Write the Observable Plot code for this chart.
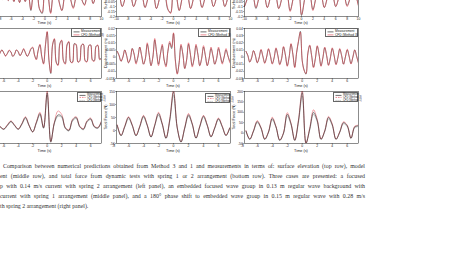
<!DOCTYPE html>
<html>
<head>
<meta charset="utf-8">
<script src="https://cdn.jsdelivr.net/npm/d3@7"></script>
<script src="https://cdn.jsdelivr.net/npm/@observablehq/plot@0.6"></script>
<style>
html,body{margin:0;padding:0;background:#fff;}
#root{position:relative;width:467px;height:271px;overflow:hidden;background:#fff;font-family:"Liberation Sans",Arial,sans-serif;color:#111;}
#root svg{position:absolute;}
.t{position:absolute;white-space:nowrap;line-height:1;transform:translate(-50%,-50%);font-size:3.8px;color:#222;}
.yl{position:absolute;white-space:nowrap;line-height:1;transform:translate(-50%,-50%) rotate(-90deg);font-size:3.8px;color:#222;}
.leg{position:absolute;box-sizing:border-box;border:0.5px solid #666;background:#fff;padding:0.5px 1px;}
.leg div{display:flex;align-items:center;white-space:nowrap;color:#222;}
.cap{position:absolute;font-family:"Liberation Serif","Times New Roman",serif;font-size:5.9px;line-height:10px;color:#333;white-space:normal;text-align:justify;text-align-last:justify;}
</style>
</head>
<body>
<div id="root"></div>
<script>
// ---------- time grids ----------
const tTop = [-10,-9.5,-9,-8.5,-8,-7.5,-7,-6.5,-6,-5.5,-5,-4.5,-4,-3.5,-3,-2.5,-2,-1.5,-1,-0.5,0,0.5,1,1.5,2,2.5,3,3.5,4,4.5,5,5.5,6,6.5,7,7.5,8,8.5,9,9.5,10];
const tMid = [-7.5,-7.25,-7,-6.75,-6.5,-6.25,-6,-5.75,-5.5,-5.25,-5,-4.75,-4.5,-4.25,-4,-3.75,-3.5,-3.25,-3,-2.75,-2.5,-2.25,-2,-1.75,-1.5,-1.25,-1,-0.75,-0.5,-0.25,0,0.25,0.5,0.75,1,1.25,1.5,1.75,2,2.25,2.5,2.75,3,3.25,3.5,3.75,4,4.25,4.5,4.75,5,5.25,5.5,5.75,6,6.25,6.5,6.75,7,7.25,7.5];
const tBot = [-7.5,-7,-6.5,-6,-5.5,-5,-4.5,-4,-3.5,-3,-2.5,-2,-1.5,-1,-0.5,0,0.5,1,1.5,2,2.5,3,3.5,4,4.5,5,5.5,6,6.5,7,7.5];

// ---------- top row: surface elevation (m) ----------
const elevLeftMeas = [0.02,-0.03,0.02,-0.02,0.03,-0.03,0.03,-0.04,0.04,-0.05,0.05,-0.06,0.06,-0.05,0.04,-0.14,0.05,0.1,-0.12,-0.17,0.25,0.05,-0.16,0.05,0.12,-0.05,-0.14,0.02,0.1,-0.02,-0.11,0.0,0.08,-0.03,-0.08,0.02,0.06,-0.07,0.0,0.05,-0.02];
const elevLeftCfd3 = [0.02,-0.03,0.02,-0.02,0.03,-0.03,0.03,-0.04,0.04,-0.05,0.05,-0.06,0.06,-0.05,0.04,-0.13,0.05,0.1,-0.12,-0.16,0.24,0.05,-0.17,0.05,0.12,-0.06,-0.14,0.02,0.1,-0.02,-0.12,0.0,0.08,-0.03,-0.09,0.02,0.06,-0.07,0.0,0.05,-0.03];
const elevMidMeas = [0.1,0.02,-0.1,-0.02,0.1,0.02,-0.1,-0.02,0.11,0.02,-0.11,-0.02,0.11,0.03,-0.12,-0.03,0.12,0.04,-0.13,-0.16,0.24,0.02,-0.14,-0.02,0.12,0.02,-0.12,-0.02,0.11,0.02,-0.11,-0.02,0.1,0.02,-0.1,-0.02,0.1,0.02,-0.1,-0.02,0.1];
const elevMidCfd3 = [0.1,0.02,-0.1,-0.02,0.1,0.02,-0.1,-0.02,0.11,0.02,-0.11,-0.02,0.11,0.03,-0.12,-0.03,0.12,0.04,-0.12,-0.17,0.23,0.03,-0.14,-0.02,0.12,0.02,-0.12,-0.02,0.11,0.02,-0.11,-0.02,0.1,0.02,-0.1,-0.02,0.1,0.02,-0.1,-0.02,0.1];
const elevRightMeas = [-0.1,-0.02,0.1,0.02,-0.12,-0.02,0.1,0.02,-0.11,-0.02,0.1,0.02,-0.12,-0.03,0.11,0.03,-0.14,-0.03,0.13,0.08,-0.19,-0.04,0.16,0.04,-0.13,-0.02,0.11,0.02,-0.11,-0.02,0.1,0.02,-0.1,-0.02,0.1,0.02,-0.09,-0.02,0.1,0.02,-0.09];
const elevRightCfd3 = [-0.1,-0.02,0.1,0.02,-0.11,-0.02,0.1,0.02,-0.11,-0.02,0.1,0.02,-0.12,-0.03,0.11,0.03,-0.15,-0.03,0.13,0.07,-0.18,-0.04,0.15,0.04,-0.14,-0.02,0.11,0.02,-0.11,-0.02,0.1,0.02,-0.1,-0.02,0.1,0.02,-0.1,-0.02,0.1,0.02,-0.1];

// ---------- middle row: model displacement (m) ----------
const dispLeftMeas = [0.002,0.004,0,-0.004, 0.001,0.005,0.001,-0.003, 0,0.004,0.002,-0.004, -0.001,0.005,0.002,-0.003, 0.001,0.006,0.001,-0.004, 0,0.006,0.008,-0.002, -0.008,0.004,0.012,-0.004, -0.014,0.01,0.03,-0.01, -0.028,0.012,0.02,-0.012, -0.016,0.014,0.018,-0.01, -0.014,0.012,0.016,-0.012, -0.012,0.014,0.012,-0.012, -0.01,0.012,0.013,-0.01, -0.011,0.011,0.012,-0.009, -0.01,0.01,0.011,-0.008, -0.006];
const dispLeftCfd3 = [0.002,0.004,0.001,-0.004, 0.001,0.005,0.001,-0.004, 0,0.005,0.002,-0.004, -0.001,0.005,0.003,-0.003, 0.001,0.007,0.001,-0.004, 0,0.007,0.009,-0.002, -0.009,0.004,0.013,-0.004, -0.015,0.011,0.031,-0.009, -0.027,0.013,0.021,-0.013, -0.017,0.013,0.019,-0.011, -0.015,0.013,0.017,-0.012, -0.013,0.013,0.013,-0.012, -0.011,0.012,0.013,-0.011, -0.012,0.011,0.012,-0.01, -0.011,0.01,0.012,-0.009, -0.007];
const dispMidMeas = [0.004,0.001,-0.003,0.0, 0.005,0.001,-0.004,-0.001, 0.006,0.002,-0.004,0.0, 0.007,0.001,-0.005,-0.001, 0.009,0.002,-0.006,0.0, 0.012,0.003,-0.005,0.002, 0.008,-0.002,-0.006,0.004, 0.01,0.006,0.0165,-0.002, -0.0115,-0.004,0.008,0.002, -0.008,-0.002,0.009,0.002, -0.006,-0.001,0.008,0.002, -0.006,-0.001,0.007,0.001, -0.006,-0.001,0.006,0.001, -0.005,-0.001,0.006,0.001, -0.004,0.0,0.005,0.001, -0.003];
const dispMidCfd3 = [0.004,0.001,-0.003,0.0, 0.005,0.001,-0.004,-0.001, 0.006,0.002,-0.005,0.0, 0.007,0.001,-0.005,-0.001, 0.01,0.002,-0.006,0.0, 0.013,0.003,-0.006,0.002, 0.009,-0.002,-0.007,0.004, 0.011,0.007,0.017,-0.003, -0.012,-0.004,0.009,0.002, -0.008,-0.002,0.01,0.002, -0.007,-0.001,0.009,0.002, -0.006,-0.001,0.008,0.001, -0.006,-0.001,0.007,0.001, -0.005,-0.001,0.007,0.001, -0.005,0.0,0.006,0.001, -0.004];
const dispRightMeas = [0.008,0.002,-0.007,-0.001, 0.009,0.002,-0.008,-0.001, 0.01,0.001,-0.008,0.0, 0.011,0.002,-0.009,-0.001, 0.012,0.002,-0.01,-0.002, 0.014,0.003,-0.012,0.0, 0.018,0.004,-0.014,0.006, 0.022,0.036,-0.005,-0.018, -0.024,0.005,0.016,0.002, -0.014,-0.002,0.015,0.003, -0.012,-0.001,0.013,0.002, -0.011,-0.001,0.012,0.002, -0.01,-0.001,0.011,0.002, -0.01,0.0,0.01,0.001, -0.009,0.0,0.01,0.001, -0.008];
const dispRightCfd3 = [0.008,0.002,-0.007,-0.001, 0.009,0.002,-0.008,-0.001, 0.011,0.001,-0.009,0.0, 0.012,0.002,-0.01,-0.001, 0.013,0.002,-0.011,-0.002, 0.015,0.003,-0.013,0.0, 0.019,0.004,-0.015,0.007, 0.023,0.035,-0.006,-0.019, -0.023,0.006,0.017,0.002, -0.015,-0.002,0.016,0.003, -0.013,-0.001,0.014,0.002, -0.012,-0.001,0.013,0.002, -0.011,-0.001,0.012,0.002, -0.01,0.0,0.011,0.001, -0.01,0.0,0.01,0.001, -0.009];

// ---------- bottom row: total force (N) ----------
const forceLeftMeas = [10,25,15,5,20,35,20,5,25,50,20,-5,30,65,10,145,-45,30,60,55,10,0,40,50,15,5,35,45,15,10,35];
const forceLeftCfd3 = [12,27,16,6,22,37,21,6,27,53,20,-5,32,70,12,152,-42,33,75,62,12,2,43,53,17,7,37,48,17,12,37];
const forceLeftCfd1 = [8,22,13,4,18,32,18,4,22,46,18,-6,27,60,8,135,-40,27,55,50,8,-2,36,46,13,3,32,42,13,8,32];
const forceMidMeas = [20,-20,15,50,20,-20,15,55,20,-25,20,65,25,-30,40,148,10,-45,10,60,25,-30,15,55,20,-25,10,45,15,-20,10];
const forceMidCfd3 = [22,-18,17,53,22,-18,17,58,22,-23,22,70,27,-28,45,155,12,-43,12,65,27,-28,17,58,22,-23,12,48,17,-18,12];
const forceMidCfd1 = [18,-20,13,45,18,-20,13,50,18,-25,18,58,22,-30,35,135,8,-42,8,55,22,-28,13,50,18,-22,8,42,13,-18,8];
const forceRightMeas = [10,-30,10,55,25,-30,5,70,30,-35,0,90,45,-35,60,195,-50,20,100,60,-30,10,75,40,-30,5,50,35,-25,30,35];
const forceRightCfd3 = [12,-28,12,60,27,-28,7,76,32,-33,2,98,48,-33,65,205,-48,25,112,66,-28,12,80,44,-28,7,54,38,-23,33,38];
const forceRightCfd1 = [8,-30,8,50,22,-30,3,64,27,-35,-2,82,40,-35,52,178,-45,16,90,54,-30,7,68,36,-30,3,45,31,-25,26,31];

// ---------- ticks & labels ----------
const xTicksTop = [-10,-8,-6,-4,-2,0,2,4,6,8,10];
const xTicksLow = [-8,-6,-4,-2,0,2,4,6];
const yTicksElev = [-0.2,-0.15,-0.1,-0.05,0,0.05,0.1,0.15,0.2,0.25,0.3];
const yTicksDispLeft = [-0.03,-0.02,-0.01,0,0.01,0.02,0.03];
const yTicksDispMid = [-0.015,-0.01,-0.005,0,0.005,0.01,0.015,0.02];
const yTicksDispRight = [-0.03,-0.02,-0.01,0,0.01,0.02,0.03,0.04];
const yTicksForceMid = [-50,0,50,100,150];
const yTicksForceRight = [-50,0,50,100,150,200];
const xLabel = "Time (s)";
const yLabels = ["Surface elevation (m)", "Displacement (m)", "Total Force (N)"];
const legendMid = ["Measurement", "CFD (Method 3)"];
const legendBot = ["Measurement", "CFD (Method 3)", "CFD (Method 1)"];
const captionLines = [
  "Comparison between numerical predictions obtained from Method 3 and 1 and measurements in terms of: surface elevation (top row), model",
  "ent (middle row), and total force from dynamic tests with spring 1 or 2 arrangement (bottom row). Three cases are presented: a focused",
  "p with 0.14 m/s current with spring 2 arrangement (left panel), an embedded focused wave group in 0.13 m regular wave background with",
  "current with spring 1 arrangement (middle panel), and a 180\u00B0 phase shift to embedded wave group in 0.15 m regular wave with 0.28 m/s",
  "th spring 2 arrangement (right panel)."
];

// ---------- layout ----------
const root = document.getElementById("root");
const colX = [[-12,101],[116,230],[244,358]];
const rowY = [[-34,16],[28,78],[91,143]];
const RED = "#e03a48";
const styleMeas = {c:"#111", w:0.5, d:null};
const styleC3 = {c:RED, w:0.55, d:null};
const styleC3d = {c:RED, w:0.5, d:"1.6,0.9"};
const styleC1 = {c:"#8c8c8c", w:0.55, d:"1.2,0.8"};

function addPanel(cfg) {
  const ml = 22, mr = 3, mt = 3, mb = 9;
  const L = colX[cfg.col], R = rowY[cfg.row];
  const fw = L[1]-L[0], fh = R[1]-R[0];
  const fmt = d => String(d);
  const marks = [];
  for (const s of cfg.series) {
    marks.push(Plot.line(s.v, {x: cfg.t, y: s.v, stroke: s.c, strokeWidth: s.w, strokeDasharray: s.d, curve: "catmull-rom", clip: true}));
  }
  marks.push(Plot.frame({stroke: "#000", strokeWidth: 0.45}));
  marks.push(Plot.axisX({ticks: cfg.xt, tickFormat: fmt, tickSize: 1, tickPadding: 0.5, label: null, strokeWidth: 0.4}));
  marks.push(Plot.axisY({ticks: cfg.yt, tickFormat: fmt, tickSize: 1, tickPadding: 0.6, label: null, strokeWidth: 0.4}));
  const svg = Plot.plot({
    width: fw+ml+mr, height: fh+mt+mb,
    marginLeft: ml, marginRight: mr, marginTop: mt, marginBottom: mb,
    x: {domain: cfg.xd}, y: {domain: cfg.yd},
    style: {fontSize: "3.4px", fontFamily: "'Liberation Sans', Arial, sans-serif", background: "none", maxWidth: "none", overflow: "visible", color: "#222"},
    marks
  });
  svg.style.left = (L[0]-ml) + "px";
  svg.style.top = (R[0]-mt) + "px";
  root.appendChild(svg);
  // axis labels
  const tl = document.createElement("div");
  tl.className = "t"; tl.textContent = xLabel;
  tl.style.left = ((L[0]+L[1])/2) + "px";
  tl.style.top = (R[1] + (cfg.row === 0 ? 8 : 9)) + "px";
  root.appendChild(tl);
  const yl = document.createElement("div");
  yl.className = "yl"; yl.textContent = yLabels[cfg.row];
  yl.style.left = (L[0]-9) + "px";
  yl.style.top = ((R[0]+R[1])/2) + "px";
  root.appendChild(yl);
}

function addLegend(x, y, w, h, labels, styles, fs) {
  const box = document.createElement("div");
  box.className = "leg";
  box.style.left = x + "px"; box.style.top = y + "px";
  box.style.width = w + "px"; box.style.height = h + "px";
  box.style.fontSize = fs + "px";
  const lh = (h - 1.5) / labels.length;
  labels.forEach((lab, i) => {
    const row = document.createElement("div");
    row.style.height = lh + "px";
    const s = styles[i];
    row.innerHTML = `<svg width="7" height="${lh}" style="position:static;margin-right:1px;flex:none"><line x1="0.5" x2="6.5" y1="${lh/2}" y2="${lh/2}" stroke="${s.c}" stroke-width="0.6" ${s.d ? `stroke-dasharray="${s.d}"` : ""}/></svg><span>${lab}</span>`;
    box.appendChild(row);
  });
  root.appendChild(box);
}

// top row
addPanel({col:0,row:0,t:tTop,xd:[-10,10],xt:xTicksTop,yd:[-0.2,0.3],yt:yTicksElev,series:[{v:elevLeftMeas,...styleMeas},{v:elevLeftCfd3,...styleC3}]});
addPanel({col:1,row:0,t:tTop,xd:[-10,10],xt:xTicksTop,yd:[-0.2,0.3],yt:yTicksElev,series:[{v:elevMidMeas,...styleMeas},{v:elevMidCfd3,...styleC3}]});
addPanel({col:2,row:0,t:tTop,xd:[-10,10],xt:xTicksTop,yd:[-0.2,0.3],yt:yTicksElev,series:[{v:elevRightMeas,...styleMeas},{v:elevRightCfd3,...styleC3}]});
// middle row
addPanel({col:0,row:1,t:tMid,xd:[-8.1,7.5],xt:xTicksLow,yd:[-0.035,0.035],yt:yTicksDispLeft,series:[{v:dispLeftMeas,...styleMeas},{v:dispLeftCfd3,...styleC3}]});
addPanel({col:1,row:1,t:tMid,xd:[-7.6,7.6],xt:xTicksLow,yd:[-0.015,0.02],yt:yTicksDispMid,series:[{v:dispMidMeas,...styleMeas},{v:dispMidCfd3,...styleC3}]});
addPanel({col:2,row:1,t:tMid,xd:[-7.7,7.5],xt:xTicksLow,yd:[-0.03,0.04],yt:yTicksDispRight,series:[{v:dispRightMeas,...styleMeas},{v:dispRightCfd3,...styleC3}]});
// bottom row
addPanel({col:0,row:2,t:tBot,xd:[-8.1,7.5],xt:xTicksLow,yd:[-50,150],yt:yTicksForceMid,series:[{v:forceLeftCfd1,...styleC1},{v:forceLeftCfd3,...styleC3d},{v:forceLeftMeas,...styleMeas}]});
addPanel({col:1,row:2,t:tBot,xd:[-7.6,7.6],xt:xTicksLow,yd:[-50,150],yt:yTicksForceMid,series:[{v:forceMidCfd1,...styleC1},{v:forceMidCfd3,...styleC3d},{v:forceMidMeas,...styleMeas}]});
addPanel({col:2,row:2,t:tBot,xd:[-7.7,7.5],xt:xTicksLow,yd:[-50,200],yt:yTicksForceRight,series:[{v:forceRightCfd1,...styleC1},{v:forceRightCfd3,...styleC3d},{v:forceRightMeas,...styleMeas}]});

// legends
addLegend(71, 28, 30, 9, legendMid, [styleMeas, styleC3], 3.2);
addLegend(198, 28, 32, 9, legendMid, [styleMeas, styleC3], 3.2);
addLegend(325, 28, 33, 9, legendMid, [styleMeas, styleC3], 3.2);
addLegend(77, 92, 24, 10, legendBot, [styleMeas, styleC3d, styleC1], 2.6);
addLegend(205, 93, 25, 10, legendBot, [styleMeas, styleC3d, styleC1], 2.6);
addLegend(333, 92, 25, 10, legendBot, [styleMeas, styleC3d, styleC1], 2.6);

// caption
captionLines.forEach((line, i) => {
  const d = document.createElement("div");
  d.className = "cap";
  d.textContent = line;
  const left = i === 0 ? 3 : 0;
  d.style.left = left + "px";
  d.style.width = (365 - left) + "px";
  d.style.top = (161 + i * 10) + "px";
  if (i === captionLines.length - 1) { d.style.textAlignLast = "left"; }
  root.appendChild(d);
});
</script>
</body>
</html>
